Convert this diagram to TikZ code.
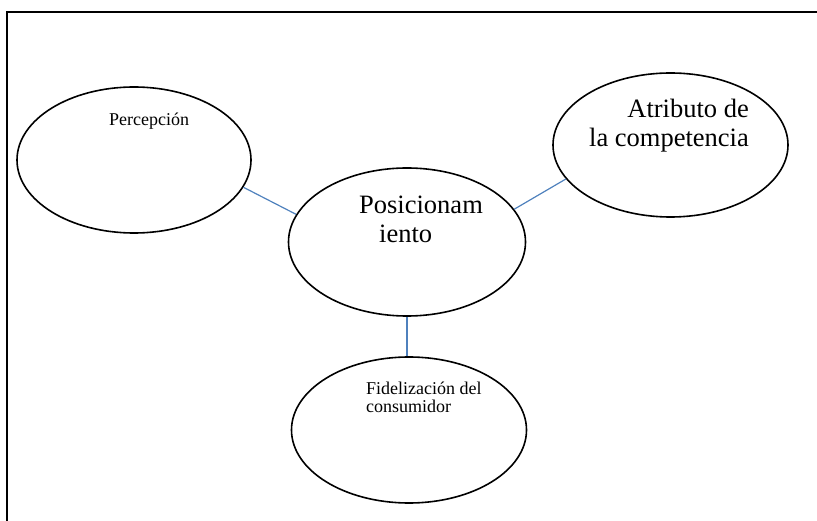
\documentclass[tikz,border=0pt]{standalone}
\usepackage{fontspec}
\setmainfont{Liberation Serif}
\usepackage{tikz}
\usetikzlibrary{shapes.geometric, positioning}
\definecolor{linkBlue}{RGB}{79,129,189}
\tikzset{
    bubble/.style={ellipse, draw=black, line width=1.6pt, fill=white, inner sep=0pt},
    bubbleBig/.style={font=\fontsize{26.5}{29.5}\selectfont, inner sep=0pt},
    bubbleSmall/.style={font=\fontsize{18}{18}\selectfont, inner sep=0pt},
    bubbleLink/.style={draw=linkBlue, line width=1.2pt},
    frameLine/.style={draw=black, line width=2pt},
}
\newcommand{\joinBubbles}[2]{
    \draw[bubbleLink] (#1) -- (#2);
}
\begin{document}
\begin{tikzpicture}[x=1pt, y=-1pt]
    \useasboundingbox (0,0) rectangle (817,521);

    % marco
    \coordinate (frameTop) at (817,12);
    \coordinate (frameCorner) at (7,12);
    \coordinate (frameBottom) at (7,521);
    \draw[frameLine] (frameTop) -- (frameCorner) -- (frameBottom);

    % 1. elipses
    \node[bubble, minimum width=234, minimum height=146] (perc) at (134,160) {};
    \node[bubble, minimum width=237, minimum height=148] (posic) at (407,242) {};
    \node[bubble, minimum width=235, minimum height=144] (atrib) at (670.5,145) {};
    \node[bubble, minimum width=235, minimum height=146] (fidel) at (409,430) {};

    % 2. textos (base = ultima linea)
    \node[bubbleSmall, anchor=base west] (percText) at (109,126) {Percepción};
    \node[bubbleBig, anchor=base west, align=left] (posicText) at (359,243) {Posicionam\\\hspace*{20pt}iento};
    \node[bubbleBig, anchor=base east, align=right] (atribText) at (749,147) {Atributo de\\la competencia};
    \node[bubbleSmall, anchor=base west, align=left] (fidelText) at (366,413) {Fidelización del\\consumidor};

    % 3. enlaces
    \joinBubbles{perc.-14}{posic.166}
    \joinBubbles{posic.17}{atrib.-162}
    \joinBubbles{posic.south}{posic.south |- fidel.north}

\end{tikzpicture}
\end{document}
